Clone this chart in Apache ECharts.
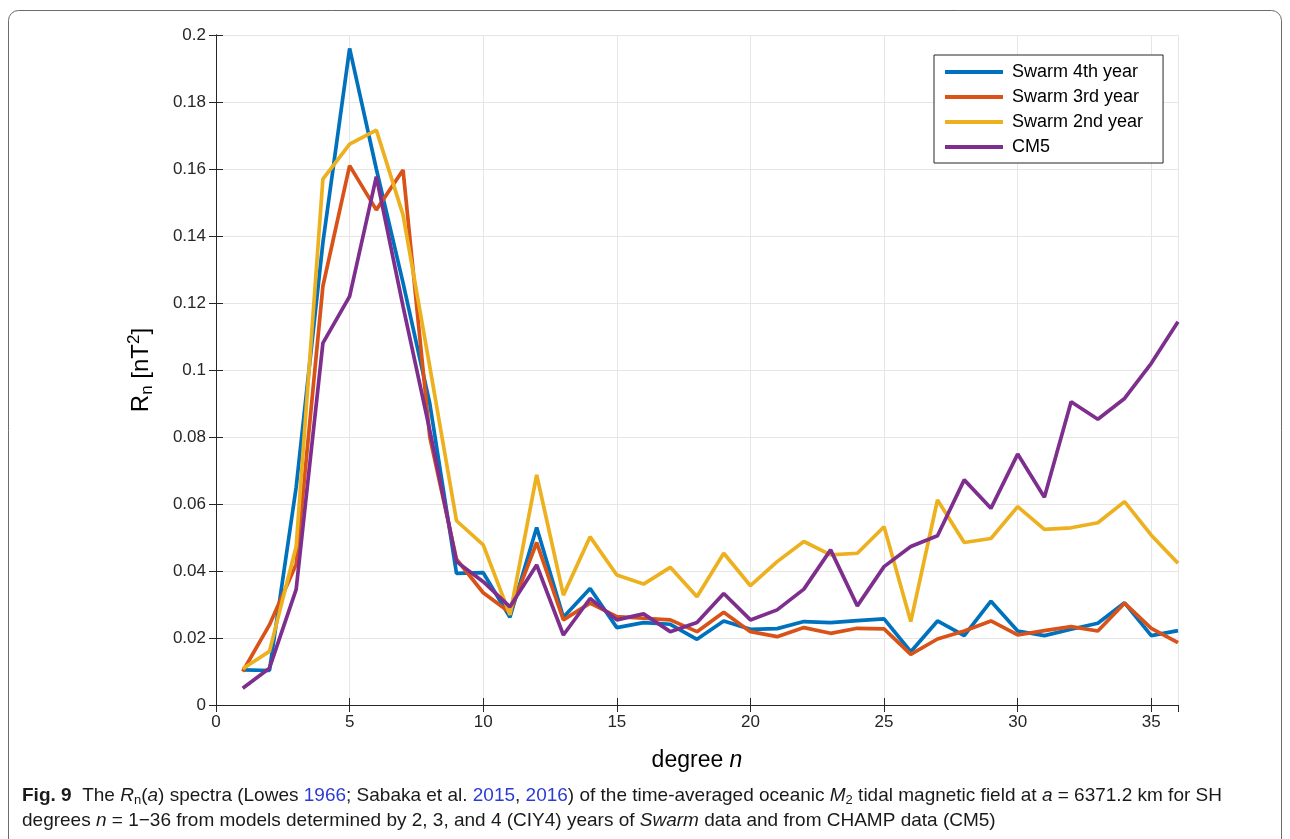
<!DOCTYPE html>
<html><head><meta charset="utf-8">
<script src="https://cdn.jsdelivr.net/npm/echarts@6/dist/echarts.min.js"></script>
<style>html,body{margin:0;padding:0;background:#fff}#c{width:1290px;height:839px}</style>
</head><body><div id="c"></div>
<script>
const degrees = [1,2,3,4,5,6,7,8,9,10,11,12,13,14,15,16,17,18,19,20,21,22,23,24,25,26,27,28,29,30,31,32,33,34,35,36];
const swarm4 = [0.0105,0.0103,0.065,0.138,0.196,0.160,0.126,0.090,0.0393,0.0395,0.0262,0.053,0.0262,0.0348,0.0231,0.0246,0.0241,0.0196,0.0251,0.0226,0.0228,0.0249,0.0246,0.0252,0.0257,0.0159,0.0251,0.0207,0.031,0.0221,0.0207,0.0226,0.0244,0.0305,0.0207,0.0222];
const swarm3 = [0.010,0.0239,0.042,0.125,0.161,0.1478,0.1597,0.080,0.0435,0.0335,0.0276,0.0485,0.0254,0.0304,0.0264,0.0259,0.0254,0.0219,0.0277,0.0219,0.0204,0.0231,0.0214,0.0229,0.0227,0.0151,0.0197,0.0221,0.0251,0.0209,0.0222,0.0234,0.0221,0.0304,0.0229,0.0186];
const swarm2 = [0.0108,0.016,0.0473,0.157,0.1674,0.1716,0.1463,0.101,0.055,0.0478,0.0269,0.0687,0.0328,0.0502,0.0388,0.0361,0.0411,0.0323,0.0453,0.0356,0.0428,0.0488,0.0448,0.0453,0.0532,0.0249,0.0612,0.0485,0.0497,0.0592,0.0524,0.0529,0.0544,0.0607,0.0507,0.0423];
const cm5 = [0.005,0.011,0.0345,0.108,0.122,0.1577,0.119,0.082,0.0428,0.0368,0.0293,0.0418,0.0209,0.0318,0.0254,0.0272,0.0219,0.0246,0.0333,0.0254,0.0284,0.0346,0.0463,0.0296,0.0413,0.0473,0.0505,0.0672,0.0587,0.0749,0.062,0.0905,0.0853,0.0915,0.102,0.1144];
const seriesNames = ['Swarm 4th year','Swarm 3rd year','Swarm 2nd year','CM5'];
const seriesColors = ['#0072BD','#D95319','#EDB120','#7E2F8E'];
const seriesData = [swarm4, swarm3, swarm2, cm5];
const xTicks = [0,5,10,15,20,25,30,35];
const yTicks = [0,0.02,0.04,0.06,0.08,0.1,0.12,0.14,0.16,0.18,0.2];

const chart = echarts.init(document.getElementById('c'), null, {renderer:'canvas'});
const F = '"Liberation Sans", Arial, sans-serif';
const gridLine = {show:true, lineStyle:{color:'#e6e6e6', width:1}};
const axisLineStyle = {show:true, lineStyle:{color:'#262626', width:1}};
const tick = {show:true, inside:true, length:7, lineStyle:{color:'#262626', width:1}};

const option = {
  animation:false,
  backgroundColor:'#fff',
  grid:{left:216, right:112, top:35, bottom:134, containLabel:false},
  legend:{
    orient:'vertical', left:934, top:55,
    data:seriesNames,
    itemWidth:58, itemHeight:4, itemGap:5,
    icon:'rect',
    backgroundColor:'#fff', borderColor:'#262626', borderWidth:1,
    padding:[7,20,6,11],
    textStyle:{fontFamily:F, fontSize:18, lineHeight:20, color:'#000', padding:[0,0,0,4]},
  },
  xAxis:[{
    type:'value', min:0, max:36, interval:5,
    name:'degree {i|n}', nameLocation:'middle', nameGap:44,
    nameTextStyle:{fontFamily:F, fontSize:23, color:'#000', rich:{i:{fontFamily:F, fontStyle:'italic', fontSize:23, color:'#000'}}},
    axisLine:axisLineStyle,
    axisTick:tick,
    axisLabel:{fontFamily:F, fontSize:17, color:'#262626', margin:9, showMaxLabel:false},
    splitLine:gridLine
  },{
    type:'value', min:0, max:36, interval:5, position:'top',
    axisLine:axisLineStyle,
    axisTick:tick,
    axisLabel:{show:false}, splitLine:{show:false}
  }],
  yAxis:[{
    type:'value', min:0, max:0.2, interval:0.02,
    name:'R{sub|n} [nT{sup|2}]', nameLocation:'middle', nameGap:60, nameRotate:90,
    nameTextStyle:{fontFamily:F, fontSize:24, color:'#000',
      rich:{sub:{fontFamily:F, fontSize:17, color:'#000', verticalAlign:'bottom', padding:[13,0,0,0]},
            sup:{fontFamily:F, fontSize:17, color:'#000', verticalAlign:'top', padding:[0,0,13,0]}}},
    axisLine:axisLineStyle,
    axisTick:tick,
    axisLabel:{fontFamily:F, fontSize:17, color:'#262626', margin:10, formatter:v=>String(parseFloat(v.toFixed(2)))},
    splitLine:gridLine
  },{
    type:'value', min:0, max:0.2, interval:0.02, position:'right',
    axisLine:axisLineStyle,
    axisTick:tick,
    axisLabel:{show:false}, splitLine:{show:false}
  }],
  series: seriesNames.map((name,k)=>({
    name, type:'line', xAxisIndex:0, yAxisIndex:0,
    data: degrees.map((d,i)=>[d, seriesData[k][i]]),
    showSymbol:false, symbol:'none',
    lineStyle:{color:seriesColors[k], width:3.7},
    itemStyle:{color:seriesColors[k]},
    z:2+k
  })).concat([
    {type:'line', xAxisIndex:1, yAxisIndex:1, data:[], silent:true}
  ]),
  graphic:[
    {type:'rect', shape:{x:8.5, y:10.5, width:1273, height:900, r:10}, style:{fill:'none', stroke:'#6b6b6b', lineWidth:1}, silent:true, z:-1},
    {type:'text', left:22, top:786, style:{
      text:'{b|Fig. 9}  The {it|R}{sub|n}({it|a}) spectra (Lowes {l|1966}; Sabaka et al. {l|2015}, {l|2016}) of the time-averaged oceanic {it|M}{sub|2} tidal magnetic field at {it|a} = 6371.2 km for SH',
      font:'19px '+F, fill:'#1a1a1a',
      rich:{
        b:{fontFamily:F, fontWeight:'bold', fontSize:19, fill:'#1a1a1a'},
        it:{fontFamily:F, fontStyle:'italic', fontSize:19, fill:'#1a1a1a'},
        sub:{fontFamily:F, fontSize:13, fill:'#1a1a1a', verticalAlign:'bottom', padding:[9,0,0,0]},
        l:{fontFamily:F, fontSize:19, fill:'#2b3bd6'}
      }}},
    {type:'text', left:22, top:811, style:{
      text:'degrees {it|n} = 1−36 from models determined by 2, 3, and 4 (CIY4) years of {it|Swarm} data and from CHAMP data (CM5)',
      font:'19px '+F, fill:'#1a1a1a',
      rich:{it:{fontFamily:F, fontStyle:'italic', fontSize:19, fill:'#1a1a1a'}}}}
  ]
};
chart.setOption(option);
</script></body></html>
